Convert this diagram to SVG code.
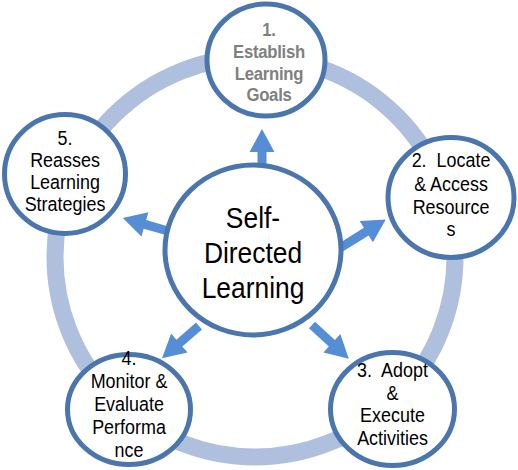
<svg xmlns="http://www.w3.org/2000/svg" width="518" height="470" viewBox="0 0 518 470">
<defs>
<style>
.node{fill:#ffffff;stroke:#4a76ad;stroke-width:5}
.t{font-family:"Liberation Sans",Arial,sans-serif;font-size:19.5px;fill:#000000;text-anchor:middle}
.g{font-family:"Liberation Sans",Arial,sans-serif;font-size:19px;font-weight:bold;fill:#808080;text-anchor:middle;letter-spacing:-0.3px}
.c{font-family:"Liberation Sans",Arial,sans-serif;font-size:29px;fill:#000000;text-anchor:middle}
.arrow{fill:#558ed5}
</style>
</defs>
<rect width="518" height="470" fill="#ffffff"/>
<g id="ring">
<circle cx="255" cy="257" r="200" fill="none" stroke="#aec0dd" stroke-width="17"/>
</g>
<g id="connectors">
<polygon class="arrow" transform="translate(262,170) rotate(-90)" points="0,-4.5 18,-4.5 18,-12.5 41,0 18,12.5 18,4.5 0,4.5"/>
<polygon class="arrow" transform="translate(340,248) rotate(-32)" points="0,-4.5 31,-4.5 31,-12.5 54,0 31,12.5 31,4.5 0,4.5"/>
<polygon class="arrow" transform="translate(312,325) rotate(42.6)" points="0,-4.5 27,-4.5 27,-12.5 50,0 27,12.5 27,4.5 0,4.5"/>
<polygon class="arrow" transform="translate(199,326) rotate(139)" points="0,-4.5 26,-4.5 26,-12.5 49,0 26,12.5 26,4.5 0,4.5"/>
<polygon class="arrow" transform="translate(168,231) rotate(196)" points="0,-4.5 24,-4.5 24,-12.5 47,0 24,12.5 24,4.5 0,4.5"/>
</g>
<g id="center">
<ellipse class="node" cx="253" cy="250" rx="88" ry="85"/>
<g transform="translate(253,0) scale(0.91,1)">
<text class="c" x="0" y="228">Self-</text>
<text class="c" x="0" y="263">Directed</text>
<text class="c" x="0" y="298">Learning</text>
</g>
</g>
<g id="node1">
<ellipse class="node" cx="266" cy="60" rx="59" ry="56"/>
<g transform="translate(269,0) scale(0.88,1)">
<text class="g" x="0" y="36">1.</text>
<text class="g" x="0" y="58.5">Establish</text>
<text class="g" x="0" y="80">Learning</text>
<text class="g" x="0" y="101">Goals</text>
</g>
</g>
<g id="node2">
<ellipse class="node" cx="451" cy="197.5" rx="63" ry="60"/>
<g transform="translate(451,0) scale(0.92,1)">
<text class="t" x="0" y="167" xml:space="preserve">2.  Locate</text>
<text class="t" x="0" y="191">&amp; Access</text>
<text class="t" x="0" y="214">Resource</text>
<text class="t" x="0" y="236">s</text>
</g>
</g>
<g id="node3">
<ellipse class="node" cx="392.5" cy="409" rx="62" ry="56.5"/>
<g transform="translate(392.5,0) scale(0.92,1)">
<text class="t" x="0" y="377" xml:space="preserve">3.  Adopt</text>
<text class="t" x="0" y="400">&amp;</text>
<text class="t" x="0" y="422">Execute</text>
<text class="t" x="0" y="445">Activities</text>
</g>
</g>
<g id="node4">
<ellipse class="node" cx="129" cy="409.5" rx="61.5" ry="55"/>
<g transform="translate(129,0) scale(0.92,1)">
<text class="t" x="0" y="365">4.</text>
<text class="t" x="0" y="388">Monitor &amp;</text>
<text class="t" x="0" y="411">Evaluate</text>
<text class="t" x="0" y="434">Performa</text>
<text class="t" x="0" y="457">nce</text>
</g>
</g>
<g id="node5">
<ellipse class="node" cx="65" cy="174" rx="60.5" ry="59.5"/>
<g transform="translate(65,0) scale(0.92,1)">
<text class="t" x="0" y="145">5.</text>
<text class="t" x="0" y="167">Reasses</text>
<text class="t" x="0" y="189">Learning</text>
<text class="t" x="0" y="211">Strategies</text>
</g>
</g>
</svg>
